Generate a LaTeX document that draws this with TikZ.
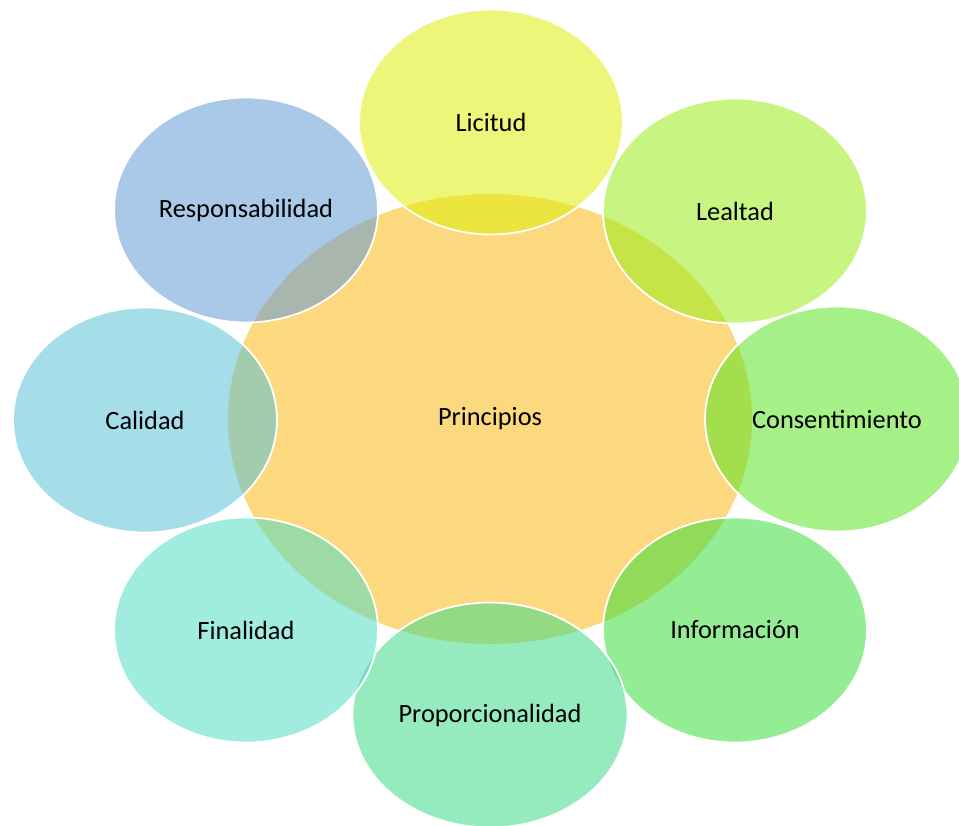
\documentclass[tikz,border=0pt]{standalone}
\usepackage{fontspec}
\setmainfont{Carlito}
\usetikzlibrary{shapes.geometric, positioning}
\definecolor{cLic}{RGB}{224,238,13}
\definecolor{cLea}{RGB}{155,237,28}
\definecolor{cCon}{RGB}{91,228,37}
\definecolor{cInf}{RGB}{60,220,60}
\definecolor{cPro}{RGB}{64,219,137}
\definecolor{cFin}{RGB}{82,220,195}
\definecolor{cCal}{RGB}{91,195,213}
\definecolor{cRes}{RGB}{100,155,213}
\definecolor{cCore}{RGB}{252,217,126}

\begin{document}
\begin{tikzpicture}[x=0.02cm, y=-0.02cm,
                every node/.style={font=\fontsize{15}{18}\selectfont, text=black},
                core/.style={ellipse, draw=white, line width=1pt, fill=cCore, minimum width=10.52cm, minimum height=9.04cm},
                bubble/.style={ellipse, draw=white, line width=1pt, fill opacity=0.55, text opacity=1, minimum width=5.28cm, minimum height=4.5cm}]
                \useasboundingbox (0,0) rectangle (959,825);
                \node[core] (principios) at (490, 419) {Principios};
                \node[bubble, fill=cLic] (licitud) at (491, 122) {Licitud};
                \node[bubble, fill=cLea] (lealtad) at (735, 211) {Lealtad};
                \node[bubble, fill=cCon] (consent) at (837, 419) {Consentimiento};
                \node[bubble, fill=cInf] (info) at (735, 630) {Información};
                \node[bubble, fill=cPro] (proporc) at (490, 715) {Proporcionalidad};
                \node[bubble, fill=cFin] (finalidad) at (246, 630) {Finalidad};
                \node[bubble, fill=cCal] (calidad) at (145, 420) {Calidad};
                \node[bubble, fill=cRes] (respons) at (246, 210) {Responsabilidad};
            \end{tikzpicture}
\end{document}
